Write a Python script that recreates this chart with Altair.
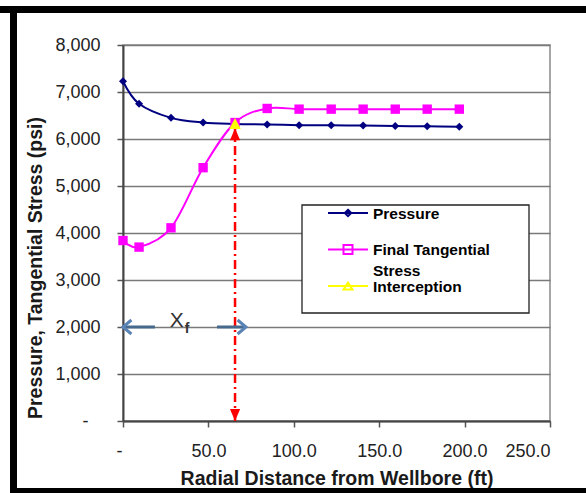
import altair as alt
import pandas as pd

# Radial positions of the computed points (ft from wellbore)
radial_ft = [0.0, 9.4, 28.1, 46.9, 65.6, 84.4, 103.1, 121.9, 140.6, 159.4, 178.1, 196.9]
pressure_psi = [7230, 6750, 6450, 6350, 6320, 6310, 6295, 6290, 6285, 6275, 6270, 6260]
tangential_psi = [3840, 3700, 4110, 5390, 6350, 6650, 6635, 6635, 6635, 6635, 6635, 6635]

# Crossing of the two curves
intercept_x = [65.6]
intercept_y = [6320]
arrow_top_psi = [6230]      # upper tip of the dash-dot marker
arrow_bottom_psi = [0]      # lower tip, on the axis

# Fracture half-length marker
xf_level = [2000]
xf_left = [0.0, 18.7]
xf_right = [55.0, 72.0]
xf_text_x = [31.4]
xf_sub_x = [37.5]

series_names = ["Pressure", "Final Tangential Stress", "Interception"]
series_colors = ["#000080", "#FF00FF", "#FFFF00"]

x_ticks = [0, 50, 100, 150, 200, 250]
y_ticks = [0, 1000, 2000, 3000, 4000, 5000, 6000, 7000, 8000]

FONT = "Liberation Sans"
LEGEND_FONT_SIZE = 15.5

x_scale = alt.Scale(domain=[0, 250], nice=False, zero=False)
y_scale = alt.Scale(domain=[0, 8000], nice=False, zero=False)

x_axis = alt.Axis(
    values=x_ticks,
    labelExpr="datum.value == 0 ? '-' : format(datum.value, '.1f')",
    labelOffset={"condition": {"test": "datum.value == 0", "value": -7}, "value": 0},
    title="Radial Distance from Wellbore (ft)",
    grid=False, tickSize=6, tickColor="#555", tickWidth=1.5,
    domainColor="#444", domainWidth=2,
    labelFont=FONT, labelFontSize=18, labelColor="#222", labelPadding=15,
    titleFont=FONT, titleFontSize=19.5, titleFontWeight="bold", titleColor="#1a1a1a",
    titleX=213.5, titleY=63, titleBaseline="alphabetic", titleAlign="center",
)
y_axis = alt.Axis(
    values=y_ticks,
    labelExpr="datum.value == 0 ? '-' : format(datum.value, ',')",
    labelPadding={"condition": {"test": "datum.value == 0", "value": 29}, "value": 17},
    title="Pressure, Tangential Stress (psi)",
    grid=True, gridColor="#7a7a7a", gridWidth=1.3,
    tickSize=6, tickColor="#555", tickWidth=1.5,
    domainColor="#444", domainWidth=2,
    labelFont=FONT, labelFontSize=18, labelColor="#222",
    titleFont=FONT, titleFontSize=19.5, titleFontWeight="bold", titleColor="#1a1a1a",
    titleAngle=270, titleX=-82, titleY=222.5, titleBaseline="alphabetic", titleAlign="center",
)


def xy(xf="x", yf="y"):
    # every layer carries the same axis definition so they merge into one
    return dict(
        x=alt.X(f"{xf}:Q", scale=x_scale, axis=x_axis),
        y=alt.Y(f"{yf}:Q", scale=y_scale, axis=y_axis),
    )


def point_layer(df, shape, color, size, filled=True, stroke_width=1):
    return alt.Chart(df).mark_point(
        shape=shape, filled=filled, size=size, color=color, opacity=1, strokeWidth=stroke_width
    ).encode(**xy())


pressure_df = pd.DataFrame({"x": radial_ft, "y": pressure_psi})
tangential_df = pd.DataFrame({"x": radial_ft, "y": tangential_psi})

p_line = alt.Chart(pressure_df).mark_line(
    color=series_colors[0], strokeWidth=2, interpolate="cardinal"
).encode(**xy())
p_pts = point_layer(pressure_df, "diamond", series_colors[0], 64)

t_line = alt.Chart(tangential_df).mark_line(
    color=series_colors[1], strokeWidth=2, interpolate="cardinal"
).encode(**xy())
t_pts = point_layer(tangential_df, "square", series_colors[1], 88)

# Dash-dot marker dropped from the crossing to the axis
drop_df = pd.DataFrame({"x": intercept_x, "y": arrow_bottom_psi, "y2": arrow_top_psi})
drop_rule = alt.Chart(drop_df).mark_rule(
    color="#FF0000", strokeWidth=2.5, strokeDash=[9, 4, 2, 4]
).encode(**xy(), y2="y2:Q")
head_up = point_layer(pd.DataFrame({"x": intercept_x, "y": arrow_top_psi}),
                      "M0,0L0.85,2H-0.85Z", "#FF0000", 144)
head_down = point_layer(pd.DataFrame({"x": intercept_x, "y": arrow_bottom_psi}),
                        "M0,0L0.85,-2H-0.85Z", "#FF0000", 144)

cross_pt = point_layer(pd.DataFrame({"x": intercept_x, "y": intercept_y}),
                       "M0,-1L0.95,0.85H-0.95Z", series_colors[2], 144)

# X_f span arrows
xf_df = pd.DataFrame({"x": [xf_left[0], xf_right[0]], "x2": [xf_left[1], xf_right[1]],
                      "y": xf_level * 2})
xf_shafts = alt.Chart(xf_df).mark_rule(color="#46698e", strokeWidth=3).encode(
    **xy(), x2="x2:Q")
xf_head_l = point_layer(pd.DataFrame({"x": [xf_left[0]], "y": xf_level}),
                        "M1.2,-1L0,0L1.2,1", "#5a84b6", 196, filled=False, stroke_width=3)
xf_head_r = point_layer(pd.DataFrame({"x": [xf_right[1]], "y": xf_level}),
                        "M-1.2,-1L0,0L-1.2,1", "#5a84b6", 196, filled=False, stroke_width=3)
xf_text = alt.Chart(pd.DataFrame({"x": xf_text_x, "y": xf_level, "t": ["X"]})).mark_text(
    font=FONT, fontSize=21, color="#333", baseline="alphabetic", align="center"
).encode(**xy(), text="t:N")
xf_sub = alt.Chart(pd.DataFrame({"x": xf_sub_x, "y": xf_level, "t": ["f"]})).mark_text(
    font=FONT, fontSize=14, fontWeight="bold", color="#333", baseline="alphabetic",
    align="center", dy=6
).encode(**xy(), text="t:N")

# Legend panel (white box with border) and the wrapped second line of one entry
legend_box = alt.Chart(pd.DataFrame({"k": [0]})).mark_rect(
    fill="white", stroke="#222", strokeWidth=1.3
).encode(x=alt.value(179), x2=alt.value(406), y=alt.value(160), y2=alt.value(268))
legend_wrap = alt.Chart(pd.DataFrame({"t": ["Stress"]})).mark_text(
    font=FONT, fontSize=LEGEND_FONT_SIZE, fontWeight="bold", color="black",
    align="left", baseline="alphabetic"
).encode(x=alt.value(250), y=alt.value(231), text="t:N")

# Legend symbols: a line segment with the series marker on it (unit = 13 px)
cy = -0.423
line_seg = f"M-1.538,{cy}H1.538"
legend_shapes = [
    line_seg + f"M0,{cy-0.246}L0.246,{cy}L0,{cy+0.246}L-0.246,{cy}Z",
    line_seg + f"M-0.346,{cy-0.346}H0.346V{cy+0.346}H-0.346Z",
    line_seg + f"M0,{cy-0.27}L0.346,{cy+0.27}H-0.346Z",
]
legend_props = dict(
    title=None, orient="none", legendX=179, legendY=159.5, direction="vertical",
    padding=0, symbolSize=676, symbolStrokeWidth=2, symbolOffset=32,
    labelFont=FONT, labelFontSize=LEGEND_FONT_SIZE, labelFontWeight="bold", labelColor="black",
    labelBaseline="alphabetic", labelOffset=11, rowPadding=18.5, labelLimit=300,
    labelExpr="datum.label == 'Final Tangential Stress' ? 'Final Tangential' : datum.label",
)
color_scale = alt.Scale(domain=series_names, range=series_colors)
legend_layer = alt.Chart(pd.DataFrame({"series": series_names})).mark_point(
    filled=True, opacity=0
).encode(
    fill=alt.Fill("series:N", scale=color_scale, legend=alt.Legend(**legend_props)),
    stroke=alt.Stroke("series:N", scale=color_scale, legend=alt.Legend(**legend_props)),
    shape=alt.Shape("series:N", scale=alt.Scale(domain=series_names, range=legend_shapes),
                    legend=alt.Legend(**legend_props)),
)


# Outer black frame: solid bands along the top, left and bottom edges
def band(x0, x1, y0, y1):
    return alt.Chart(pd.DataFrame({"k": [0]})).mark_rect(
        fill="black", strokeWidth=0
    ).encode(x=alt.value(x0), x2=alt.value(x1), y=alt.value(y0), y2=alt.value(y1))


frame_top = band(-123, 463, -39, -32)
frame_left = band(-113, -106, -39, 448)
frame_bottom = band(-113, 463, 443, 448)

chart = alt.layer(
    frame_top, frame_left, frame_bottom,
    p_line, t_line, p_pts, t_pts, drop_rule, head_up, head_down, cross_pt,
    xf_shafts, xf_head_l, xf_head_r, xf_text, xf_sub,
    legend_box, legend_wrap, legend_layer
).properties(
    width=427, height=376,
    padding={"left": 123, "top": 45, "right": 36, "bottom": 72},
    autosize=alt.AutoSizeParams(type="none"),
    background="white",
).configure_view(stroke="#8a8a8a", strokeWidth=1.5)

chart.save("out.html", embed_options={"renderer": "svg", "actions": False})
